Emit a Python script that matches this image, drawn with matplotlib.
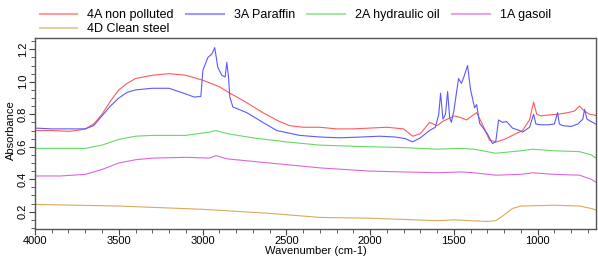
import matplotlib.pyplot as plt
from matplotlib.ticker import MultipleLocator

# 4A non polluted
wn_4a = [4000, 3900, 3800, 3750, 3700, 3650, 3600, 3550, 3500, 3450, 3400, 3300, 3200, 3100,
         3000, 2900, 2837, 2750, 2640, 2550, 2480, 2400, 2300, 2200, 2100, 2000, 1900, 1800,
         1746, 1700, 1645, 1600, 1560, 1496, 1460, 1424, 1364, 1330, 1287, 1245, 1200, 1150,
         1090, 1048, 1024, 1005, 980, 940, 880, 820, 780, 750, 720, 690, 660, 650]
ab_4a = [0.70, 0.70, 0.695, 0.70, 0.71, 0.74, 0.80, 0.88, 0.95, 0.99, 1.02, 1.04, 1.05, 1.04,
         1.01, 0.97, 0.93, 0.88, 0.81, 0.76, 0.73, 0.72, 0.72, 0.71, 0.71, 0.715, 0.72, 0.71,
         0.665, 0.68, 0.75, 0.73, 0.76, 0.79, 0.78, 0.765, 0.81, 0.74, 0.64, 0.63, 0.645, 0.67,
         0.70, 0.765, 0.875, 0.80, 0.79, 0.795, 0.80, 0.81, 0.82, 0.85, 0.82, 0.80, 0.795, 0.79]

# 3A Paraffin
wn_3a = [4000, 3900, 3800, 3700, 3650, 3600, 3550, 3500, 3450, 3400, 3300, 3200, 3100, 3050,
         3010, 2998, 2968, 2945, 2927, 2909, 2885, 2865, 2855, 2845, 2837, 2819, 2736, 2640,
         2557, 2420, 2300, 2181, 2050, 1943, 1850, 1790, 1746, 1700, 1645, 1610, 1590, 1579,
         1565, 1550, 1537, 1525, 1515, 1500, 1472, 1455, 1440, 1418, 1400, 1376, 1364, 1346,
         1300, 1269, 1250, 1233, 1210, 1185, 1150, 1108, 1090, 1048, 1024, 1010, 980, 940,
         900, 881, 870, 850, 800, 760, 730, 720, 705, 690, 670, 655]
ab_3a = [0.715, 0.71, 0.71, 0.71, 0.73, 0.79, 0.85, 0.90, 0.935, 0.95, 0.96, 0.96, 0.925, 0.906,
         0.91, 1.07, 1.15, 1.17, 1.21, 1.09, 1.04, 1.03, 1.12, 1.03, 0.906, 0.845, 0.81, 0.75,
         0.70, 0.67, 0.66, 0.655, 0.66, 0.665, 0.66, 0.65, 0.63, 0.655, 0.70, 0.72, 0.80, 0.93,
         0.77, 0.80, 0.94, 0.78, 0.75, 0.82, 1.02, 0.99, 1.03, 1.10, 0.95, 0.84, 0.86, 0.745,
         0.68, 0.62, 0.63, 0.765, 0.75, 0.755, 0.715, 0.70, 0.69, 0.72, 0.80, 0.74, 0.735, 0.735,
         0.74, 0.81, 0.74, 0.73, 0.725, 0.74, 0.77, 0.83, 0.77, 0.76, 0.75, 0.74]

# 2A hydraulic oil
wn_2a = [4000, 3850, 3700, 3600, 3500, 3400, 3300, 3100, 2960, 2920, 2850, 2700, 2500, 2300,
         2000, 1800, 1600, 1460, 1380, 1250, 1100, 1030, 900, 750, 680, 650]
ab_2a = [0.59, 0.59, 0.59, 0.61, 0.645, 0.665, 0.67, 0.67, 0.69, 0.70, 0.68, 0.655, 0.63, 0.61,
         0.60, 0.595, 0.585, 0.59, 0.585, 0.56, 0.575, 0.585, 0.575, 0.57, 0.55, 0.53]

# 1A gasoil
wn_1a = [4000, 3850, 3700, 3600, 3500, 3400, 3300, 3100, 2960, 2920, 2850, 2700, 2500, 2300,
         2000, 1800, 1600, 1460, 1380, 1250, 1100, 1030, 900, 750, 680, 650]
ab_1a = [0.42, 0.42, 0.43, 0.46, 0.50, 0.52, 0.53, 0.535, 0.53, 0.545, 0.525, 0.51, 0.49, 0.47,
         0.45, 0.445, 0.44, 0.445, 0.44, 0.425, 0.43, 0.44, 0.43, 0.425, 0.40, 0.38]

# 4D Clean steel
wn_4d = [4000, 3500, 3000, 2600, 2300, 2000, 1600, 1500, 1300, 1250, 1200, 1150, 1100, 900,
         750, 680, 650]
ab_4d = [0.245, 0.235, 0.215, 0.19, 0.165, 0.16, 0.145, 0.15, 0.14, 0.145, 0.18, 0.22, 0.235,
         0.24, 0.235, 0.22, 0.21]

plt.rcParams['font.family'] = ['Liberation Sans', 'DejaVu Sans']

fig = plt.figure(figsize=(5.98, 2.58), dpi=100)
ax = fig.add_axes([0.0585, 0.112, 0.938, 0.741])

lw = 0.8
l4a, = ax.plot(wn_4a, ab_4a, color='#ff5a5a', lw=lw, label='4A non polluted')
l3a, = ax.plot(wn_3a, ab_3a, color='#5a5aff', lw=lw, label='3A Paraffin')
l2a, = ax.plot(wn_2a, ab_2a, color='#66d966', lw=lw, label='2A hydraulic oil')
l1a, = ax.plot(wn_1a, ab_1a, color='#dd66dd', lw=lw, label='1A gasoil')
l4d, = ax.plot(wn_4d, ab_4d, color='#d8aa5c', lw=lw, label='4D Clean steel')

ax.set_xlim(4000, 652)
ax.set_ylim(0.093, 1.27)
ax.xaxis.set_major_locator(MultipleLocator(500))
ax.xaxis.set_minor_locator(MultipleLocator(100))
ax.yaxis.set_major_locator(MultipleLocator(0.2))
ax.yaxis.set_minor_locator(MultipleLocator(0.05))
ax.tick_params(axis='both', which='major', labelsize=8, length=4, color='#444444', pad=1)
ax.tick_params(axis='both', which='minor', length=3, color='#444444')
for lab in ax.get_yticklabels():
    lab.set_rotation(90)
    lab.set_va('center')
for s in ax.spines.values():
    s.set_color('#555555')
    s.set_linewidth(1.0)

ax.set_xlabel('Wavenumber (cm-1)', fontsize=8, labelpad=0)
ax.set_ylabel('Absorbance', fontsize=8)
ax.yaxis.set_label_coords(-0.033, 0.52)

# column-major fill: put 4D second so it lands under 4A
leg = ax.legend([l4a, l4d, l3a, l2a, l1a],
                ['4A non polluted', '4D Clean steel', '3A Paraffin', '2A hydraulic oil', '1A gasoil'],
                loc='lower left', bbox_to_anchor=(-0.005, 0.975), ncol=4, frameon=False,
                fontsize=9, handlelength=3.0, handletextpad=0.8, columnspacing=1.0,
                labelspacing=0.15, borderpad=0.1)
for h in leg.get_lines():
    h.set_linewidth(1.5)
    h.set_alpha(0.6)

fig.savefig('out.png', dpi=100)
